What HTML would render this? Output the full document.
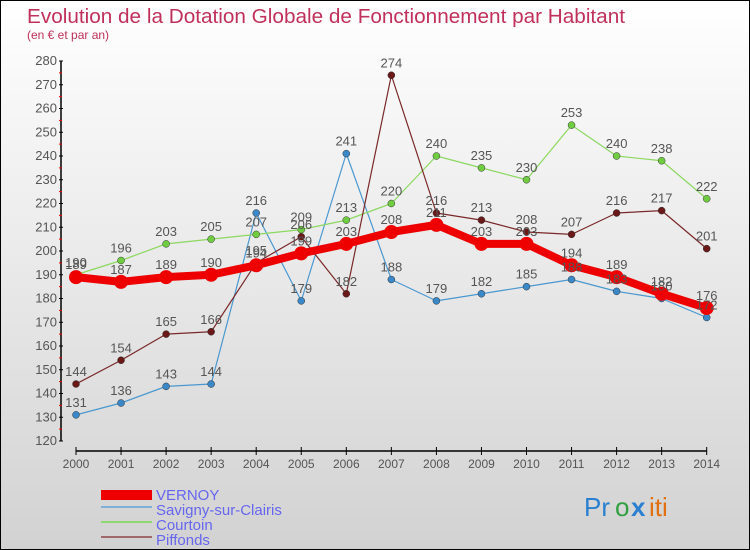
<!DOCTYPE html>
<html><head><meta charset="utf-8"><style>
body{margin:0}
#wrap{width:748px;height:548px;border:1px solid #000;background:linear-gradient(#ffffff,#d2d2d2);position:relative;font-family:"Liberation Sans",sans-serif;overflow:hidden}
svg text{font-family:"Liberation Sans",sans-serif}
</style></head><body>
<div id="wrap">
<svg id="c" width="748" height="548">
<text x="26" y="22" font-size="20" fill="#c0305a" textLength="598" lengthAdjust="spacingAndGlyphs">Evolution de la Dotation Globale de Fonctionnement par Habitant</text>
<text x="26" y="38" font-size="12" fill="#c0305a">(en € et par an)</text>
<g id="axes"></g><g id="series"></g><g id="labels"></g>
<g>
<rect x="100" y="489" width="51" height="10" fill="#ee0000"/>
<text x="155" y="499" font-size="15" fill="#6666ee">VERNOY</text>
<rect x="100" y="505" width="51" height="2" fill="#7fb0d8"/>
<text x="155" y="514" font-size="15" fill="#6666ee">Savigny-sur-Clairis</text>
<rect x="100" y="520" width="51" height="2" fill="#90d870"/>
<text x="155" y="529" font-size="15" fill="#6666ee">Courtoin</text>
<rect x="100" y="535" width="51" height="2" fill="#a06868"/>
<text x="155" y="544" font-size="15" fill="#6666ee">Piffonds</text>
</g>
<g font-size="26">
<text x="583" y="515" fill="#2a80d0">Pr</text><text x="614" y="515" fill="#30a040">o</text><text x="630" y="515" fill="#2a80d0" font-weight="bold">x</text><text x="648" y="515" fill="#e07010">iti</text>
</g>
</svg></div>
<script>
const years=[2000,2001,2002,2003,2004,2005,2006,2007,2008,2009,2010,2011,2012,2013,2014];
const vernoy=[189,187,189,190,194,199,203,208,211,203,203,194,189,182,176];
const savigny=[131,136,143,144,216,179,241,188,179,182,185,188,183,180,172];
const courtoin=[190,196,203,205,207,209,213,220,240,235,230,253,240,238,222];
const piffonds=[144,154,165,166,195,206,182,274,216,213,208,207,216,217,201];
const yTicks=[120,130,140,150,160,170,180,190,200,210,220,230,240,250,260,270,280];
const NS="http://www.w3.org/2000/svg";
const X=i=>75+i*45.05, Y=v=>440-(v-120)*2.375;
function mk(t,a,p){const e=document.createElementNS(NS,t);for(const k in a)e.setAttribute(k,a[k]);p.appendChild(e);return e;}
const ax=document.getElementById('axes');
const ya=mk('line',{x1:60,y1:60,x2:60,y2:440,stroke:'#000','stroke-width':1.5},ax);


yTicks.forEach(v=>{
 mk('line',{x1:58,x2:62,y1:Y(v),y2:Y(v),stroke:'#000'},ax);
 if(v<280)mk('line',{x1:58,x2:61,y1:Y(v+5),y2:Y(v+5),stroke:'#e00'},ax);
 const t=mk('text',{x:56,y:Y(v)+4,'font-size':13,'text-anchor':'end',fill:'#555'},ax);t.textContent=v;
 
 
});
const xa=mk('line',{x1:75,y1:450,x2:706,y2:450,stroke:'#000','stroke-width':1.5},ax);


years.forEach((y,i)=>{
 mk('line',{x1:X(i),x2:X(i),y1:446,y2:454,stroke:'#000'},ax);
 const t=mk('text',{x:X(i),y:467,'font-size':12,'text-anchor':'middle',fill:'#555'},ax);t.textContent=y;
 
 
});
const sg=document.getElementById('series'),lg=document.getElementById('labels');
function draw(data,name,col,dot,w,r){
 const g=mk('g',{},sg);
 
 
 mk('polyline',{points:data.map((v,i)=>X(i)+','+Y(v)).join(' '),fill:'none',stroke:col,'stroke-width':w,'stroke-linejoin':'round'},g);
 data.forEach((v,i)=>{
  const c=mk('circle',{cx:X(i),cy:Y(v),r:r,fill:dot,stroke:w>3?'none':'#333','stroke-width':0.5},g);
  
  
  const t=mk('text',{x:X(i),y:Y(v)-8,'font-size':13,'text-anchor':'middle',fill:'#555'},lg);t.textContent=v;
  
  
 });
}
draw(savigny,'savigny','#4a98d0','#3a88c8',1.2,3.5);
draw(courtoin,'courtoin','#8cd860','#70cc40',1.2,3.5);
draw(piffonds,'piffonds','#7a2828','#6a1818',1.2,3.5);
draw(vernoy,'vernoy','#ee0000','#ee0000',8,7);
</script>
</body></html>
